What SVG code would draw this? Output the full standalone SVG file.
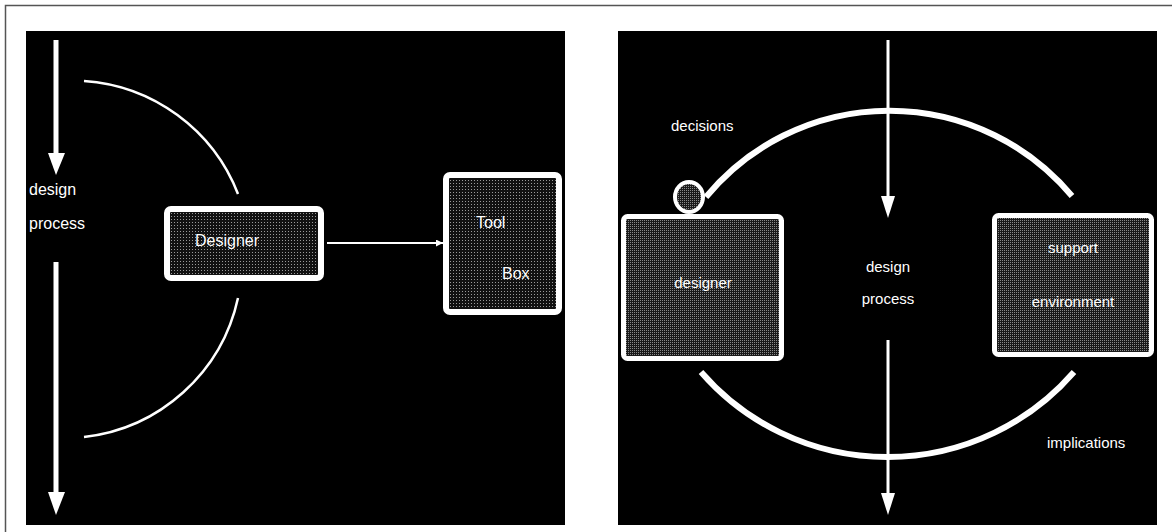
<svg xmlns="http://www.w3.org/2000/svg" width="1172" height="532" viewBox="0 0 1172 532">
<defs>
<pattern id="dotsA" width="3" height="3" patternUnits="userSpaceOnUse">
<rect width="3" height="3" fill="#111"/>
<rect width="1" height="1" fill="#9a9a9a"/>
</pattern>
<pattern id="dotsB" width="2" height="2" patternUnits="userSpaceOnUse">
<rect width="2" height="2" fill="#1a1a1a"/>
<rect width="1" height="1" fill="#8a8a8a"/>
</pattern>
<marker id="ah" viewBox="0 0 10 10" refX="10" refY="5" markerWidth="7" markerHeight="7" markerUnits="userSpaceOnUse" orient="auto">
<path d="M0,0 L10,5 L0,10 z" fill="#fff"/>
</marker>
</defs>
<style>
.lbl{font-family:"Liberation Sans",Arial,sans-serif;font-size:16px;fill:#fff}
.lbl2{font-family:"Liberation Sans",Arial,sans-serif;font-size:15px;fill:#fff}
.boxA{fill:url(#dotsA);stroke:#fff;stroke-width:6}
.boxB{fill:url(#dotsB);stroke:#fff;stroke-width:5}
.arc{fill:none;stroke:#fff}
</style>
<rect x="0" y="0" width="1172" height="532" fill="#fff"/>
<rect x="5.5" y="5.5" width="1300" height="700" fill="none" stroke="#555" stroke-width="1.5"/>
<rect x="26" y="31" width="539" height="494" fill="#000"/>
<rect x="618" y="31" width="539" height="494" fill="#000"/>

<g id="connectors">
<line x1="56" y1="40" x2="56" y2="154" stroke="#fff" stroke-width="5"/>
<polygon points="48,153 65,153 56,175" fill="#fff"/>
<line x1="56" y1="262" x2="56" y2="493" stroke="#fff" stroke-width="5"/>
<polygon points="48,492 65,492 56,515" fill="#fff"/>
<path class="arc" stroke-width="2.5" d="M84,81 A178,178 0 0 1 238,194"/>
<path class="arc" stroke-width="2.5" d="M238,298 A178,178 0 0 1 84,437"/>
<line x1="327" y1="243" x2="443" y2="243" stroke="#fff" stroke-width="2" marker-end="url(#ah)"/>

<line x1="888" y1="40" x2="888" y2="197" stroke="#fff" stroke-width="3"/>
<polygon points="881,196 895,196 888,218" fill="#fff"/>
<line x1="888" y1="340" x2="888" y2="494" stroke="#fff" stroke-width="3"/>
<polygon points="881,493 895,493 888,515" fill="#fff"/>
<path class="arc" stroke-width="6" d="M706,197 A238,238 0 0 1 1072,196"/>
<path class="arc" stroke-width="6" d="M701,372 A247,247 0 0 0 1074,372"/>
</g>

<g id="label-design-process-left">
<text class="lbl" x="29" y="195">design</text>
<text class="lbl" x="29" y="229">process</text>
</g>

<g id="node-designer-left">
<rect class="boxA" x="167" y="209" width="154" height="69" rx="4"/>
<text class="lbl" x="195" y="246">Designer</text>
</g>

<g id="node-toolbox">
<rect class="boxA" x="446" y="175" width="113" height="137" rx="4"/>
<text class="lbl" x="476" y="228">Tool</text>
<text class="lbl" x="502" y="279">Box</text>
</g>

<g id="label-decisions">
<text class="lbl2" x="671" y="131">decisions</text>
</g>

<g id="node-decision-circle">
<ellipse cx="689" cy="197" rx="14" ry="15" fill="url(#dotsB)" stroke="#fff" stroke-width="4"/>
</g>

<g id="node-designer-right">
<rect class="boxB" x="623.5" y="216.5" width="158" height="142" rx="4"/>
<text class="lbl2" x="703" y="288" text-anchor="middle">designer</text>
</g>

<g id="label-design-process-right">
<text class="lbl2" x="888" y="272" text-anchor="middle">design</text>
<text class="lbl2" x="888" y="304" text-anchor="middle">process</text>
</g>

<g id="node-support">
<rect class="boxB" x="994.5" y="215.5" width="157" height="139" rx="4"/>
<text class="lbl2" x="1073" y="253" text-anchor="middle">support</text>
<text class="lbl2" x="1073" y="307" text-anchor="middle">environment</text>
</g>

<g id="label-implications">
<text class="lbl2" x="1047" y="448">implications</text>
</g>
</svg>
